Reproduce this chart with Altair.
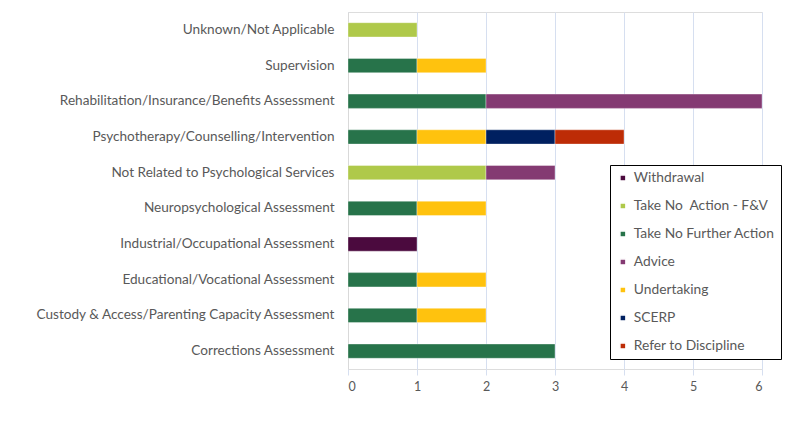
import altair as alt
import pandas as pd

categories = [
    "Unknown/Not Applicable",
    "Supervision",
    "Rehabilitation/Insurance/Benefits Assessment",
    "Psychotherapy/Counselling/Intervention",
    "Not Related to Psychological Services",
    "Neuropsychological Assessment",
    "Industrial/Occupational Assessment",
    "Educational/Vocational Assessment",
    "Custody & Access/Parenting Capacity Assessment",
    "Corrections Assessment",
]
outcomes = ["Withdrawal", "Take No\u00a0 Action - F&V", "Take No Further Action",
            "Advice", "Undertaking", "SCERP", "Refer to Discipline"]
colors = ["#4b0a3e", "#afc94a", "#27734a", "#843a72", "#ffc20e", "#002060", "#bd2c06"]

# values per outcome, aligned with categories
withdrawal = [0, 0, 0, 0, 0, 0, 1, 0, 0, 0]
take_no_action_fv = [1, 0, 0, 0, 2, 0, 0, 0, 0, 0]
take_no_further = [0, 1, 2, 1, 0, 1, 0, 1, 1, 3]
advice = [0, 0, 4, 0, 1, 0, 0, 0, 0, 0]
undertaking = [0, 1, 0, 1, 0, 1, 0, 1, 1, 0]
scerp = [0, 0, 0, 1, 0, 0, 0, 0, 0, 0]
refer = [0, 0, 0, 1, 0, 0, 0, 0, 0, 0]

series = [withdrawal, take_no_action_fv, take_no_further, advice, undertaking, scerp, refer]
rows = []
for oi, (name, vals) in enumerate(zip(outcomes, series)):
    for c, v in zip(categories, vals):
        if v:
            rows.append({"category": c, "outcome": name, "value": v, "ord": oi})
df = pd.DataFrame(rows)

chart = alt.Chart(df).mark_bar(stroke="#ffffff", strokeWidth=0.6, strokeOpacity=0.6).encode(
    y=alt.Y("category:N", sort=categories, title=None,
            scale=alt.Scale(paddingInner=0.6, paddingOuter=0.3),
            axis=alt.Axis(ticks=False, domainColor="#d9d9d9", labelColor="#595959",
                          labelFontSize=13.6, labelFont="Lato", labelPadding=14, labelLimit=400)),
    x=alt.X("value:Q", stack="zero", title=None,
            scale=alt.Scale(domain=[0, 6], nice=False),
            axis=alt.Axis(values=[0, 1, 2, 3, 4, 5, 6], format="d", domain=False,
                          gridColor="#d6dff0", tickColor="#d6dff0", tickSize=6,
                          labelColor="#595959", labelFontSize=12.5, labelFont="Lato",
                          labelPadding=5)),
    color=alt.Color("outcome:N", sort=outcomes,
                    scale=alt.Scale(domain=outcomes, range=colors),
                    legend=alt.Legend(title=None, orient="none", legendX=262, legendY=153,
                                      symbolType="square", symbolSize=36,
                                      labelFontSize=13.8, labelFont="Lato", labelOffset=4,
                                      labelColor="#595959", rowPadding=13,
                                      padding=6, strokeColor="#000000",
                                      fillColor="#ffffff", labelLimit=300)),
    order=alt.Order("ord:Q"),
).properties(
    width=414, height=357,
    autosize=alt.AutoSizeParams(type="none"),
    padding={"left": 340, "top": 4, "right": 30, "bottom": 40},
).configure_view(stroke=None).configure(background="#ffffff")

chart.save("out.html", embed_options={"renderer": "svg", "actions": False})
